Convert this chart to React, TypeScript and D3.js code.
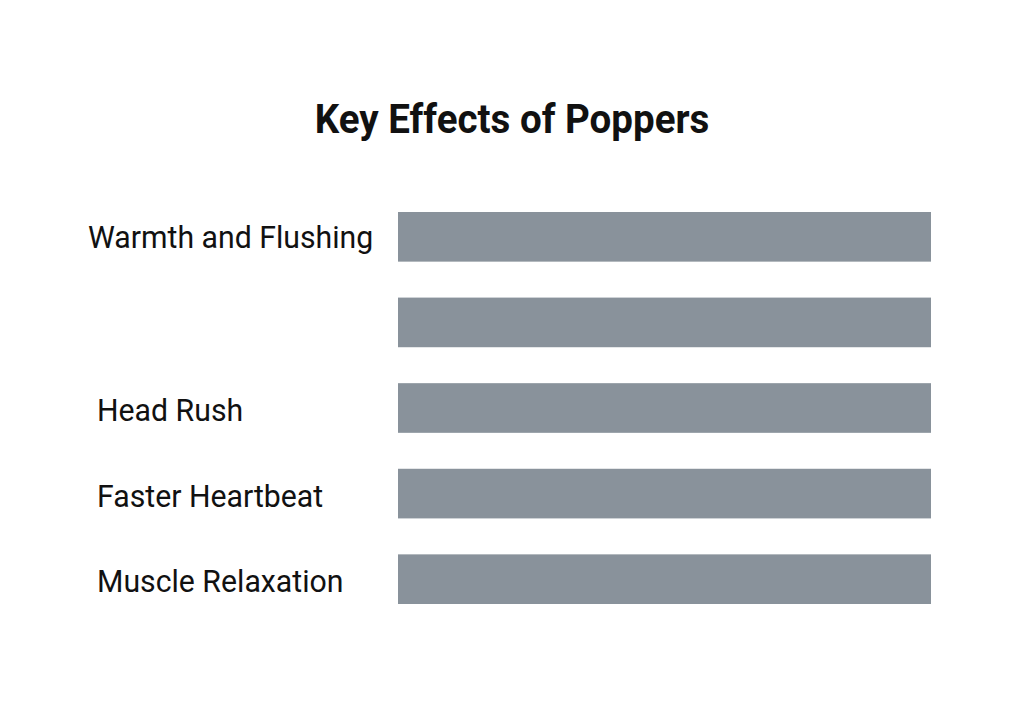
import React, { useEffect, useRef } from "react";
import * as d3 from "d3";

const title = "Key Effects of Poppers";
const categories = ["Warmth and Flushing", "", "Head Rush", "Faster Heartbeat", "Muscle Relaxation"];
const values = [100, 100, 100, 100, 100];

const W = 1024;
const H = 717;

export default function App() {
  const ref = useRef<SVGSVGElement>(null);
  useEffect(() => {
    const svg = d3.select(ref.current);
    svg.selectAll("*").remove();
    svg.append("rect").attr("width", W).attr("height", H).attr("fill", "#ffffff");

    const x = d3.scaleLinear().domain([0, 100]).range([398, 931]);
    const y = d3.scaleBand().domain(categories.map((_, i) => String(i))).range([212, 604]).paddingInner(0.42).paddingOuter(0);

    svg.append("g")
      .attr("transform", `translate(512,133) scale(0.94,1)`)
      .append("text")
      .attr("text-anchor", "middle")
      .attr("font-family", "Roboto")
      .attr("font-weight", 700)
      .attr("font-size", 41)
      .attr("fill", "#111")
      .text(title);

    const rows = svg.append("g").selectAll("g").data(categories).join("g");
    rows.append("rect")
      .attr("x", x(0))
      .attr("y", (_, i) => y(String(i))!)
      .attr("width", (_, i) => x(values[i]) - x(0))
      .attr("height", y.bandwidth())
      .attr("fill", "#89929b");

    rows.append("g")
      .attr("transform", (d, i) => `translate(${i === 0 ? 88 : 97},${y(String(i))! + y.bandwidth() / 2 + (i === 0 ? 11 : 13)}) scale(0.945,1)`)
      .append("text")
      .attr("font-family", "Roboto")
      .attr("font-size", 32)
      .attr("fill", "#111")
      .text((d) => d);
  }, []);
  return <svg ref={ref} width={W} height={H} style={{ display: "block", margin: "-8px" }} />;
}
